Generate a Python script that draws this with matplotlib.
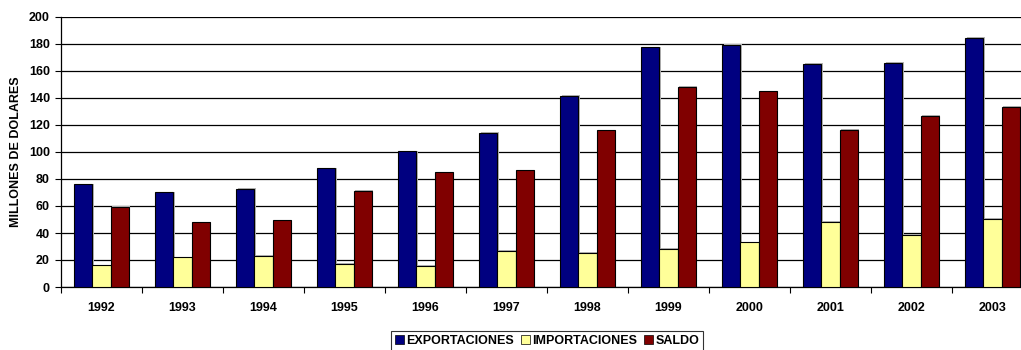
import numpy as np
import matplotlib
matplotlib.use("Agg")
import matplotlib.pyplot as plt

plt.rcParams['font.family'] = ['Liberation Sans', 'DejaVu Sans']
plt.rcParams['font.weight'] = 'bold'

years = ['1992', '1993', '1994', '1995', '1996', '1997',
         '1998', '1999', '2000', '2001', '2002', '2003']
exportaciones = [76, 70, 72.5, 88, 100.5, 114, 141.5, 177.5, 179.5, 165.5, 166, 184.5]
importaciones = [16, 22, 23, 17, 15.5, 27, 25.5, 28.5, 33, 48.5, 38.5, 50.5]
saldo = [59.5, 48, 49.5, 71, 85, 86.5, 116, 148.5, 145, 116.5, 127, 133.5]

fig = plt.figure(figsize=(10.21, 3.5), dpi=100)
ax = fig.add_axes([61 / 1021, 63 / 350, 972 / 1021, 270 / 350])

x = np.arange(len(years))
w = 0.225
series = [(exportaciones, '#000080', 'EXPORTACIONES'),
          (importaciones, '#ffff99', 'IMPORTACIONES'),
          (saldo, '#800000', 'SALDO')]
for i, (vals, col, lab) in enumerate(series):
    pos = x + (i - 1) * w
    # light grey drop shadow
    ax.bar(pos + 0.02, np.array(vals) + 0.5, width=w, color='#b4b4b4',
           edgecolor='none', zorder=2)
    ax.bar(pos, vals, width=w, color=col, edgecolor='black', linewidth=0.8,
           zorder=3, label=lab)

ax.set_xlim(-0.5, 11.5)
ax.set_ylim(0, 200)
ax.set_yticks(np.arange(0, 201, 20))
ax.yaxis.grid(True, color='black', linewidth=0.9)
ax.set_axisbelow(True)

ax.set_xticks(np.arange(-0.5, 12, 1))
ax.set_xticklabels([])
ax.set_xticks(x, minor=True)
ax.set_xticklabels(years, minor=True)
ax.tick_params(axis='x', which='major', length=4, width=0.8, color='black')
ax.tick_params(axis='x', which='minor', length=0, pad=11, labelsize=9)
ax.tick_params(axis='y', length=4, width=0.8, labelsize=9, pad=4)

for s in ['top', 'right']:
    ax.spines[s].set_visible(False)
ax.spines['left'].set_linewidth(0.9)
ax.spines['bottom'].set_linewidth(0.9)

ax.set_ylabel('MILLONES DE DOLARES', fontsize=9, fontweight='bold', labelpad=5)

leg = ax.legend(loc='upper center', bbox_to_anchor=(0.5, -0.163), ncol=3,
                fontsize=9, frameon=True, fancybox=False, edgecolor='black',
                handlelength=0.75, handleheight=0.75, handletextpad=0.2,
                columnspacing=0.5, borderpad=0.3, borderaxespad=0)
leg.get_frame().set_linewidth(0.8)
for h in leg.legend_handles:
    h.set_linewidth(0.5)

fig.savefig('out.png', dpi=100)
